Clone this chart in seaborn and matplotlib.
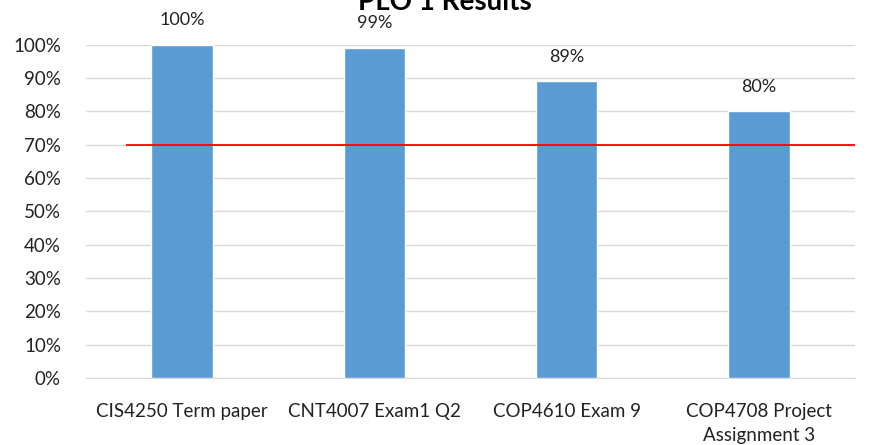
import numpy as np
import pandas as pd
import matplotlib
matplotlib.use("Agg")
import matplotlib.pyplot as plt
import seaborn as sns

## chart data
courses = ["CIS4250 Term paper", "CNT4007 Exam1 Q2", "COP4610 Exam 9", "COP4708 Project\nAssignment 3"]
scores = [1.00, 0.99, 0.89, 0.80]
target = 0.70
title = "PLO 1 Results"

df = pd.DataFrame({"course": courses, "score": scores})

sns.set_style("white")
plt.rcParams["font.family"] = ["Lato", "DejaVu Sans"]

fig = plt.figure(figsize=(8.77, 4.45), dpi=100)
ax = fig.add_axes([0.098, 0.1506, 0.877, 0.749])

sns.barplot(data=df, x="course", y="score", color="#5B9BD5", width=0.32,
            saturation=1, ax=ax, zorder=3)

## target line
ax.hlines(target, -0.29, 3.5, color="red", linewidth=1.3, zorder=4)

## value labels above bars
for i, v in enumerate(scores):
    ax.text(i, v + 0.05, "{:.0%}".format(v), ha="center", va="bottom",
            fontsize=13, color="#222222", clip_on=False)

ax.set_xlim(-0.5, 3.5)
ax.set_ylim(0, 1.0)
ax.set_yticks(np.arange(0, 1.01, 0.1))
ax.set_yticklabels(["{:.0%}".format(t) for t in np.arange(0, 1.01, 0.1)])
ax.tick_params(axis="both", labelsize=13.5, length=0, colors="#222222")
ax.tick_params(axis="x", pad=18)
ax.tick_params(axis="y", pad=18)
for lbl in ax.get_xticklabels():
    lbl.set_linespacing(1.5)
ax.yaxis.grid(True, color="#d9d9d9", linewidth=1, zorder=0)
ax.set_axisbelow(True)
for s in ["top", "right", "left"]:
    ax.spines[s].set_visible(False)
ax.spines["bottom"].set_color("#d9d9d9")
ax.set_xlabel("")
ax.set_ylabel("")

## title sits at the very top edge, as in the reference
fig.text(0.507, 0.978, title, ha="center", va="baseline", fontsize=20,
         fontweight="bold", color="black")

fig.savefig("out.png", dpi=100)
